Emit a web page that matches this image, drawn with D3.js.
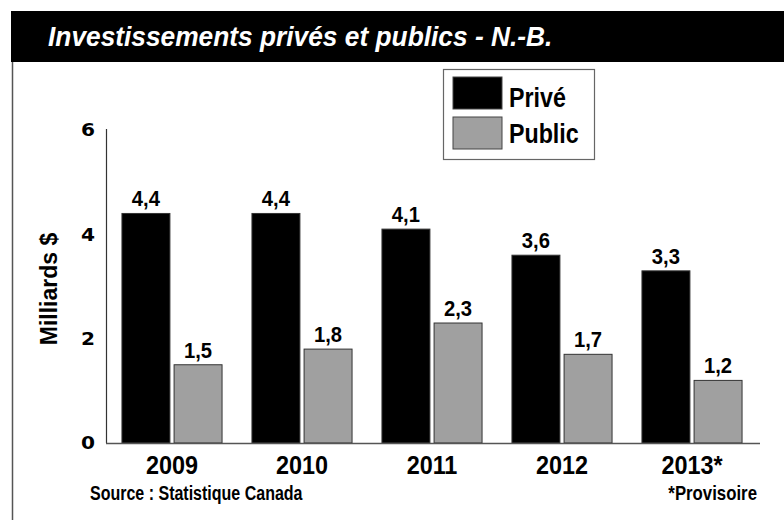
<!DOCTYPE html>
<html>
<head>
<meta charset="utf-8">
<script src="https://d3js.org/d3.v7.min.js"></script>
<style>
  body { margin: 0; background: #fff; }
  text { font-family: "Liberation Sans", Arial, sans-serif; }
</style>
</head>
<body>
<div id="chart"></div>
<script>
// chart data
var years = ["2009", "2010", "2011", "2012", "2013*"];
var series = ["Privé", "Public"];
var prive = [4.4, 4.4, 4.1, 3.6, 3.3];
var publicVals = [1.5, 1.8, 2.3, 1.7, 1.2];
var yTicks = [0, 2, 4, 6];

var colors = { "Privé": "#000000", "Public": "#a0a0a0" };

var width = 784, height = 520;

// no condensed font installed, so squeeze text horizontally
function squeeze(x, y, sx) {
  return "translate(" + x + "," + y + ") scale(" + sx + ",1)";
}

var svg = d3.select("#chart")
  .append("svg")
  .attr("width", width)
  .attr("height", height);

svg.append("rect").attr("width", width).attr("height", height).attr("fill", "#fff");

// title banner
svg.append("rect")
  .attr("x", 11).attr("y", 11).attr("width", width - 11).attr("height", 51)
  .attr("fill", "#000");
svg.append("text")
  .attr("transform", squeeze(48, 46, 0.94))
  .attr("fill", "#fff")
  .style("font-size", "28px").style("font-weight", "bold").style("font-style", "italic")
  .text("Investissements privés et publics - N.-B.");

// left frame line
svg.append("line")
  .attr("x1", 12.5).attr("x2", 12.5).attr("y1", 62).attr("y2", height)
  .attr("stroke", "#555").attr("stroke-width", 1.5);

// scales
var x0 = d3.scaleBand().domain(years).range([107, 757])
  .paddingInner(0.23).paddingOuter(0.115);
var x1 = d3.scaleBand().domain(series).range([0, x0.bandwidth()]).paddingInner(0.08);
var y = d3.scaleLinear().domain([0, 6]).range([443, 130]);

var rows = years.map(function(yr, i) {
  return { year: yr, values: [
    { key: "Privé", value: prive[i] },
    { key: "Public", value: publicVals[i] }
  ] };
});

// y axis line
svg.append("line")
  .attr("x1", 106.5).attr("x2", 106.5).attr("y1", y(6) - 1).attr("y2", y(0))
  .attr("stroke", "#333").attr("stroke-width", 1.2);

// y tick labels
svg.selectAll(".ytick")
  .data(yTicks)
  .enter().append("text")
  .attr("class", "ytick")
  .attr("transform", function(d) { return squeeze(88, y(d), 1.12); })
  .attr("dy", "0.36em")
  .attr("text-anchor", "middle")
  .style("font-family", "'DejaVu Sans', sans-serif")
  .style("font-weight", "bold").style("font-size", "18px")
  .text(function(d) { return d; });

// y title
svg.append("text")
  .attr("transform", "translate(57,289) rotate(-90)")
  .attr("text-anchor", "middle")
  .style("font-size", "23px").style("font-weight", "bold")
  .text("Milliards $");

// bars
var groups = svg.selectAll(".grp")
  .data(rows)
  .enter().append("g")
  .attr("class", "grp")
  .attr("transform", function(d) { return "translate(" + x0(d.year) + ",0)"; });

groups.selectAll("rect")
  .data(function(d) { return d.values; })
  .enter().append("rect")
  .attr("x", function(d) { return x1(d.key); })
  .attr("y", function(d) { return y(d.value); })
  .attr("width", x1.bandwidth())
  .attr("height", function(d) { return y(0) - y(d.value); })
  .attr("fill", function(d) { return colors[d.key]; })
  .attr("stroke", "#333").attr("stroke-width", 1);

groups.selectAll(".val")
  .data(function(d) { return d.values; })
  .enter().append("text")
  .attr("class", "val")
  .attr("transform", function(d) {
    return squeeze(x1(d.key) + x1.bandwidth() / 2, y(d.value) - 7, 0.92);
  })
  .attr("text-anchor", "middle")
  .style("font-size", "22px").style("font-weight", "bold")
  .text(function(d) { return String(d.value).replace(".", ","); });

// baseline
svg.append("line")
  .attr("x1", 106).attr("x2", 760).attr("y1", y(0) + 0.5).attr("y2", y(0) + 0.5)
  .attr("stroke", "#555").attr("stroke-width", 1.5);

// year labels
svg.selectAll(".xlab")
  .data(years)
  .enter().append("text")
  .attr("class", "xlab")
  .attr("transform", function(d) { return squeeze(x0(d) + x0.bandwidth() / 2, 474, 0.9); })
  .attr("text-anchor", "middle")
  .style("font-size", "26px").style("font-weight", "bold")
  .text(function(d) { return d; });

// notes
svg.append("text")
  .attr("transform", squeeze(90, 500, 0.8))
  .style("font-size", "20px").style("font-weight", "bold")
  .text("Source : Statistique Canada");
svg.append("text")
  .attr("transform", squeeze(757, 500, 0.84))
  .attr("text-anchor", "end")
  .style("font-size", "20px").style("font-weight", "bold")
  .text("*Provisoire");

// legend
var legend = svg.append("g").attr("transform", "translate(443,69)");
legend.append("rect")
  .attr("x", 0.5).attr("y", 0.5).attr("width", 151).attr("height", 90)
  .attr("fill", "#fff").attr("stroke", "#666").attr("stroke-width", 1.2);
series.forEach(function(s, i) {
  legend.append("rect")
    .attr("x", 10).attr("y", 8 + i * 40).attr("width", 49).attr("height", 32)
    .attr("fill", colors[s]).attr("stroke", "#444").attr("stroke-width", 1);
  legend.append("text")
    .attr("transform", squeeze(66, 38 + i * 36, 0.83))
    .style("font-size", "28px").style("font-weight", "bold")
    .text(s);
});
</script>
</body>
</html>
